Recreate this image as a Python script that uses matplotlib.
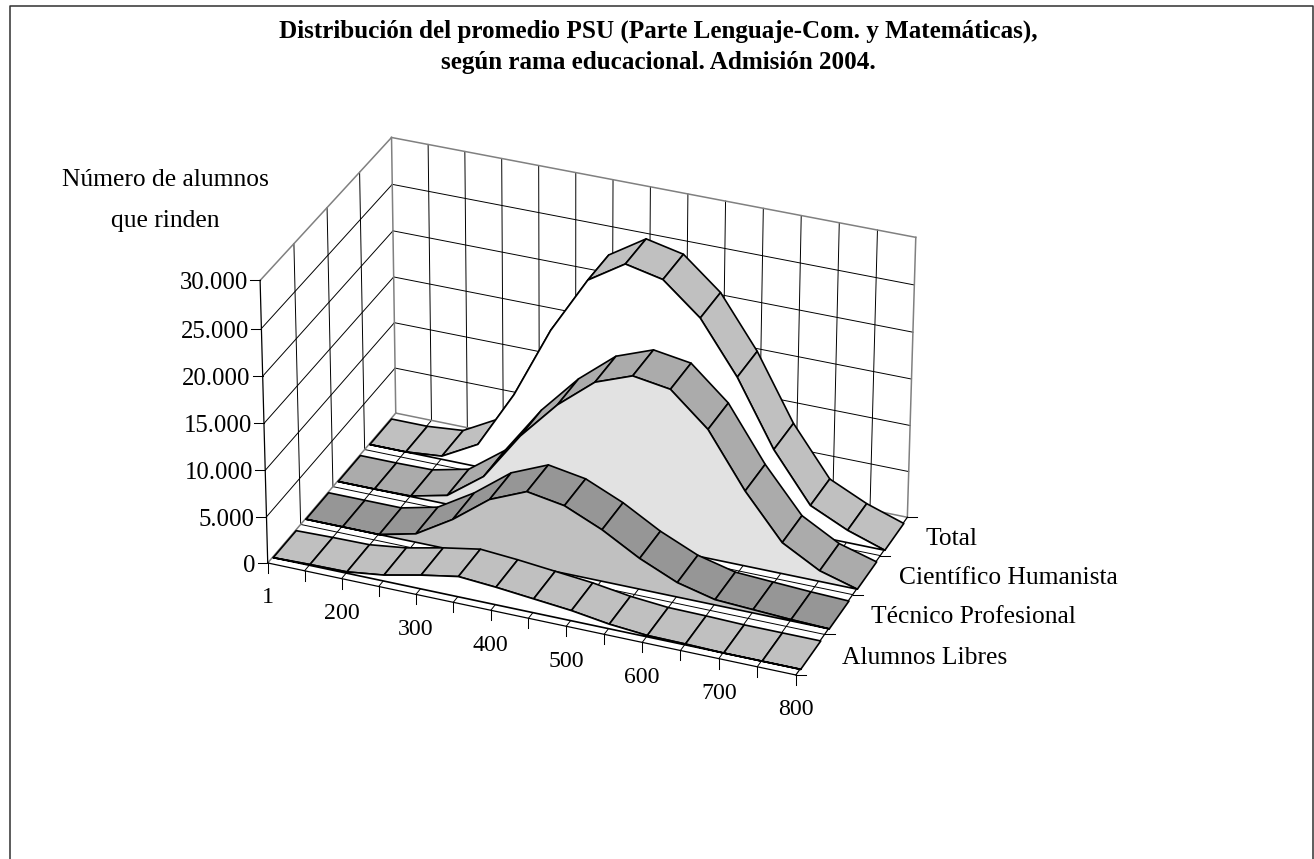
import numpy as np
import matplotlib
matplotlib.use('Agg')
import matplotlib.pyplot as plt
from matplotlib.lines import Line2D
from mpl_toolkits.mplot3d.art3d import Poly3DCollection

W, H = 1314, 859

title = ['Distribución del promedio PSU (Parte Lenguaje-Com. y Matemáticas),',
         'según rama educacional. Admisión 2004.']
ylabel = ['Número de alumnos', 'que rinden']

# puntaje classes along the front edge, only every second one is labelled
x_labels = ['1', '200', '300', '400', '500', '600', '700', '800']
z_ticks = [0, 5000, 10000, 15000, 20000, 25000, 30000]
z_labels = ['0', '5.000', '10.000', '15.000', '20.000', '25.000', '30.000']

# front to back
series_names = ['Alumnos Libres', 'Técnico Profesional', 'Científico Humanista', 'Total']
libres = [0, 100, 150, 650, 1500, 2200, 1900, 1500, 1100, 500, 150, 100, 0, 0, 0]
tecnico = [0, 0, 0, 920, 3320, 6320, 8000, 7320, 5570, 3320, 1560, 570, 350, 140, 0]
cientifico = [0, 0, 60, 960, 3860, 9080, 13250, 16470, 17940, 17320, 13860, 8080, 3350, 1150, 0]
total = [0, 0, 350, 2470, 8730, 16470, 22630, 25110, 24240, 20940, 15430, 8450, 3210, 1340, 0]
series_values = [libres, tecnico, cientifico, total]
ribbon_colors = ['#C0C0C0', '#969696', '#ABABAB', '#C0C0C0']
face_colors = ['#FFFFFF', '#C0C0C0', '#E2E2E2', '#FFFFFF']

n_x = len(total) - 1
n_y = len(series_values)
z_top = z_ticks[-1]

# box corners (x, depth, z) and where they sit in the picture
corners = [((0, 0, 0), (267.7, 562.7)),
           ((0, 0, z_top), (260.0, 280.7)),
           ((0, n_y, 0), (395.7, 413.3)),
           ((0, n_y, z_top), (391.7, 137.3)),
           ((n_x, n_y, 0), (907.3, 517.3)),
           ((n_x, n_y, z_top), (915.7, 237.3)),
           ((n_x, 0, 0), (796.0, 675.0))]

fig = plt.figure(figsize=(W / 100, H / 100), dpi=100)
plt.rcParams['font.family'] = ['Liberation Serif', 'DejaVu Serif']
ax = fig.add_axes([0, 0, 1, 1], projection='3d', computed_zorder=False)
ax.set_axis_off()
ax.apply_aspect()


def fit_projection():
    # Excel's 3D view: solve the camera from the box corners
    rows, rhs = [], []
    for (x, y, z), (px, py) in corners:
        u, v = ax.transData.inverted().transform((px, H - py))
        x, y, z = x / n_x, y / n_y, z / z_top
        rows.append([x, y, z, 1, 0, 0, 0, 0, -u * x, -u * y, -u * z])
        rows.append([0, 0, 0, 0, x, y, z, 1, -v * x, -v * y, -v * z])
        rhs += [u, v]
    p = np.linalg.lstsq(np.array(rows), np.array(rhs), rcond=None)[0]
    scale = np.diag([1 / n_x, 1 / n_y, 1 / z_top, 1])
    # depth row stays negative, lines with positive depth get dropped
    return np.array([list(p[:4]),
                     list(p[4:8]),
                     [0, -0.1, 0, -0.2],
                     list(p[8:]) + [1]]) @ scale


M = fit_projection()
ax.get_proj = lambda: M


def to_pixels(x, y, z):
    u, v, _, w = M @ np.array([x, y, z, 1.0])
    px, py = ax.transData.transform((u / w, v / w))
    return px, py


def line(xs, ys, zs, color='black', lw=0.7, zorder=1):
    ax.plot(xs, ys, zs, color=color, lw=lw, zorder=zorder, solid_capstyle='projecting')


def poly(verts, face, zorder, lw=1.2):
    col = Poly3DCollection([verts], facecolors=face, edgecolors='black', linewidths=lw)
    col.set_zorder(zorder)
    ax.add_collection3d(col, autolim=False)


# walls and floor grid
for i in range(1, n_x):
    line([i, i], [n_y, n_y], [0, z_top])
    line([i, i], [0, n_y], [0, 0])
for j in range(1, n_y):
    line([0, 0], [j, j], [0, z_top])
    line([0, n_x], [j, j], [0, 0])
for z in z_ticks[1:-1]:
    line([0, 0], [0, n_y], [z, z])
    line([0, n_x], [n_y, n_y], [z, z])

gray = '#808080'
line([0, n_x], [n_y, n_y], [z_top, z_top], gray, 1.1, 2)
line([0, 0], [0, n_y], [z_top, z_top], gray, 1.1, 2)
line([0, 0], [n_y, n_y], [0, z_top], gray, 1.1, 2)
line([n_x, n_x], [n_y, n_y], [0, z_top], gray, 1.1, 2)
line([0, n_x], [n_y, n_y], [0, 0], gray, 1.1, 2)
line([0, 0], [0, n_y], [0, 0], gray, 1.1, 2)

# axis lines
line([0, 0], [0, 0], [0, z_top], 'black', 0.9, 3)
line([0, n_x], [0, 0], [0, 0], 'black', 0.9, 3)
line([n_x, n_x], [0, n_y], [0, 0], 'black', 0.9, 3)

# areas, back one first
for k in range(n_y - 1, -1, -1):
    vals = series_values[k]
    y0, y1 = k + 0.15, k + 0.85
    base = 10 * (n_y - k)
    for i in range(n_x):
        poly([(i, y0, vals[i]), (i + 1, y0, vals[i + 1]),
              (i + 1, y1, vals[i + 1]), (i, y1, vals[i])],
             ribbon_colors[k], base + 1)
    outline = [(i, y0, vals[i]) for i in range(n_x + 1)] + [(n_x, y0, 0), (0, y0, 0)]
    poly(outline, face_colors[k], base + 2)


# tick marks and labels, placed from the projected axis
def tick(px, py, dx, dy):
    fig.add_artist(Line2D([px, px + dx], [py, py + dy], color='black', lw=0.75,
                          transform=None))


def label(px, py, s, ha='center', size=18.4, weight='normal'):
    fig.text(px / W, py / H, s, ha=ha, va='center', fontsize=size, color='black',
             fontweight=weight)


for z, s in zip(z_ticks, z_labels):
    px, py = to_pixels(0, 0, z)
    tick(px, py, -10, 0)
    label(px - 12, py - 3, s, ha='right', size=17.8)

for i in range(n_x + 1):
    px, py = to_pixels(i, 0, 0)
    tick(px, py, 0, -10)
    if i % 2 == 0:
        label(px, py - 35, x_labels[i // 2], size=17.2)

for j in range(n_y + 1):
    px, py = to_pixels(n_x, j, 0)
    tick(px, py, 10, 0)

for j, s in enumerate(series_names):
    px, py = to_pixels(n_x, j + 0.5, 0)
    label(px + 32, py - 3, s, ha='left')

label(658, H - 31, title[0], size=18.1, weight='bold')
label(658, H - 63, title[1], size=18.1, weight='bold')
label(165, H - 180, ylabel[0])
label(165, H - 221, ylabel[1])

# frame of the chart, open at the bottom edge of the crop
fig.add_artist(Line2D([10, 10, 1313, 1313], [0, H - 5.5, H - 5.5, 0], color='#303030', lw=1.1,
                      transform=None))

fig.savefig('out.png', dpi=100)
